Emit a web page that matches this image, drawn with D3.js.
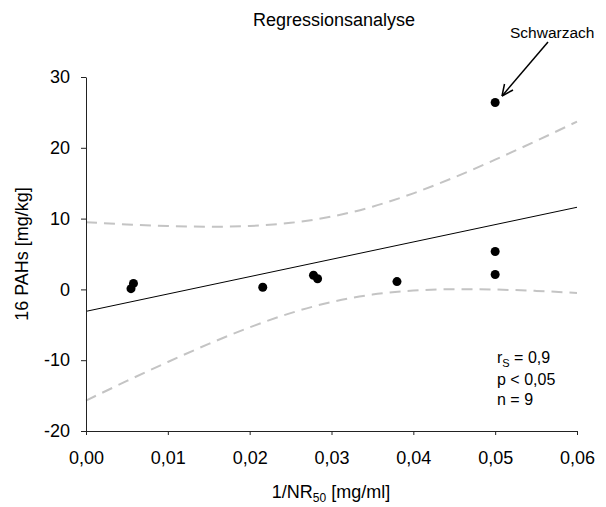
<!DOCTYPE html>
<html>
<head>
<meta charset="utf-8">
<script src="https://cdn.jsdelivr.net/npm/d3@7"></script>
<style>
  body { margin: 0; background: #fff; }
  text { font-family: "Liberation Sans", Arial, sans-serif; fill: #000; }
</style>
</head>
<body>
<script>
// data
const xValues = [0.0055, 0.0058, 0.0216, 0.0278, 0.0283, 0.038, 0.05, 0.05, 0.05];
const yValues = [0.1, 0.85, 0.3, 2.0, 1.5, 1.1, 2.1, 5.35, 26.4];

// regression line end points
const lineX = [0, 0.06];
const lineY = [-3.1, 11.6];

// confidence band read along x
const bandX = [0, 0.005, 0.01, 0.015, 0.02, 0.025, 0.03, 0.035, 0.04, 0.045, 0.05, 0.055, 0.06];
const bandUpper = [9.5, 9.18, 8.95, 8.85, 8.96, 9.4, 10.28, 11.68, 13.57, 15.82, 18.32, 20.96, 23.7];
const bandLower = [-15.7, -12.93, -10.25, -7.7, -5.36, -3.35, -1.78, -0.73, -0.17, 0.03, -0.02, -0.21, -0.5];

const xTicks = [0, 0.01, 0.02, 0.03, 0.04, 0.05, 0.06];
const yTicks = [-20, -10, 0, 10, 20, 30];

const width = 606;
const height = 507;
const margin = { top: 77, right: 29, bottom: 76, left: 86 };

const svg = d3.select('body').append('svg')
    .attr('width', width)
    .attr('height', height);

const xScale = d3.scaleLinear()
    .domain([0, 0.06])
    .range([margin.left, width - margin.right]);

const yScale = d3.scaleLinear()
    .domain([-20, 30])
    .range([height - margin.bottom, margin.top]);

// confidence band (dashed grey)
const bandLine = d3.line()
    .x(d => xScale(d[0]))
    .y(d => yScale(d[1]))
    .curve(d3.curveNatural);

[bandUpper, bandLower].forEach(vals => {
    svg.append('path')
        .datum(bandX.map((x, i) => [x, vals[i]]))
        .attr('d', bandLine)
        .attr('fill', 'none')
        .attr('stroke', '#c4c4c4')
        .attr('stroke-width', 2)
        .attr('stroke-dasharray', '11,7');
});

// regression line
svg.append('path')
    .datum(lineX.map((x, i) => [x, lineY[i]]))
    .attr('d', d3.line().x(d => xScale(d[0])).y(d => yScale(d[1])))
    .attr('fill', 'none')
    .attr('stroke', '#000')
    .attr('stroke-width', 1);

// points
svg.selectAll('circle.pt')
    .data(xValues.map((x, i) => [x, yValues[i]]))
    .enter()
    .append('circle')
    .attr('class', 'pt')
    .attr('cx', d => xScale(d[0]))
    .attr('cy', d => yScale(d[1]))
    .attr('r', 4.5)
    .attr('fill', '#000');

// axes
const xAxis = d3.axisBottom(xScale)
    .tickValues(xTicks)
    .tickSize(4)
    .tickSizeOuter(0)
    .tickPadding(16)
    .tickFormat(d => d3.format('.2f')(d).replace('.', ','));

const yAxis = d3.axisLeft(yScale)
    .tickValues(yTicks)
    .tickSize(5)
    .tickSizeOuter(0)
    .tickPadding(11)
    .tickFormat(d => String(d));

const gx = svg.append('g')
    .attr('transform', `translate(0,${height - margin.bottom})`)
    .call(xAxis);

const gy = svg.append('g')
    .attr('transform', `translate(${margin.left},0)`)
    .call(yAxis);

[gx, gy].forEach(g => {
    g.selectAll('text')
        .attr('font-family', '"Liberation Sans", Arial, sans-serif')
        .attr('font-size', 18)
        .attr('fill', '#000');
    g.selectAll('line, path').attr('stroke', '#222');
});

// title
svg.append('text')
    .attr('x', 334)
    .attr('y', 26)
    .attr('text-anchor', 'middle')
    .attr('font-size', 18)
    .text('Regressionsanalyse');

// axis labels
const xLabel = svg.append('text')
    .attr('x', 331)
    .attr('y', 498)
    .attr('text-anchor', 'middle')
    .attr('font-size', 18);
xLabel.append('tspan').text('1/NR');
xLabel.append('tspan').attr('font-size', 12).attr('dy', 4).text('50');
xLabel.append('tspan').attr('dy', -4).text(' [mg/ml]');

svg.append('text')
    .attr('transform', `translate(28,${yScale(5)}) rotate(-90)`)
    .attr('text-anchor', 'middle')
    .attr('font-size', 18)
    .text('16 PAHs [mg/kg]');

// annotation
svg.append('text')
    .attr('x', 510)
    .attr('y', 38)
    .attr('font-size', 15.5)
    .text('Schwarzach');

svg.append('line')
    .attr('x1', 548).attr('y1', 42)
    .attr('x2', 502).attr('y2', 96)
    .attr('stroke', '#000')
    .attr('stroke-width', 1.5);

svg.append('path')
    .attr('d', 'M502,96 l2.5,-12 M502,96 l11,-6')
    .attr('fill', 'none')
    .attr('stroke', '#000')
    .attr('stroke-width', 1.5);

// statistics
const stats = svg.append('g')
    .attr('font-size', 16);
const rText = stats.append('text').attr('x', 497).attr('y', 363);
rText.append('tspan').text('r');
rText.append('tspan').attr('font-size', 11).attr('dy', 4).text('S');
rText.append('tspan').attr('dy', -4).text(' = 0,9');
stats.append('text').attr('x', 497).attr('y', 385).text('p < 0,05');
stats.append('text').attr('x', 497).attr('y', 405).text('n = 9');
</script>
</body>
</html>
